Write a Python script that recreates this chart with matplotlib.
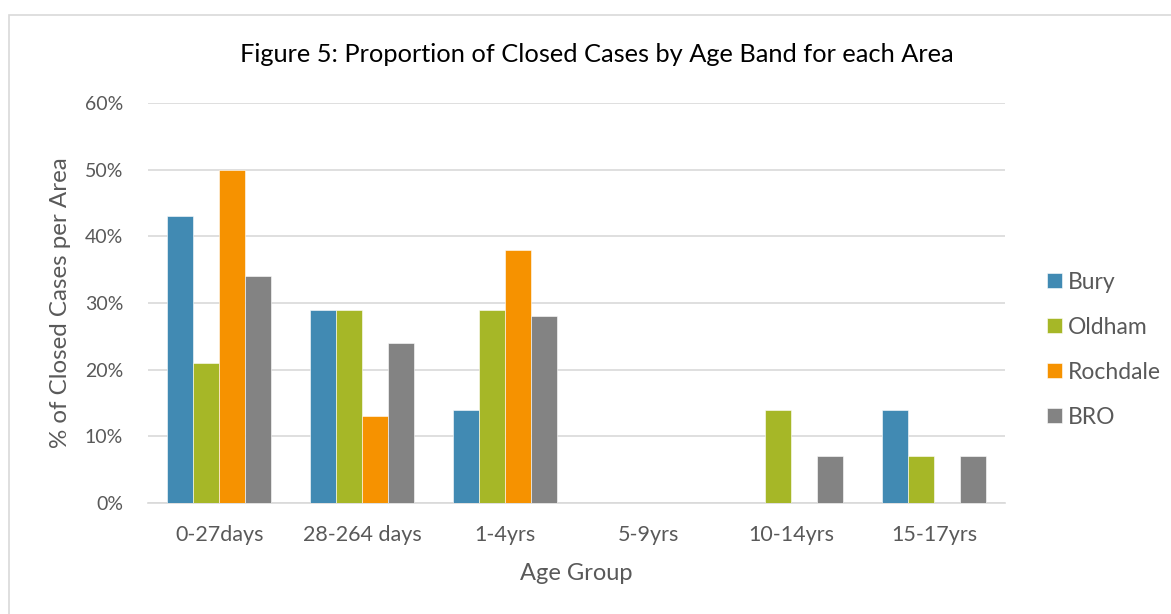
import numpy as np
import matplotlib.pyplot as plt
from matplotlib.patches import Rectangle

# data
age_groups = ['0-27days', '28-264 days', '1-4yrs', '5-9yrs', '10-14yrs', '15-17yrs']
bury = [43, 29, 14, 0, 0, 14]
oldham = [21, 29, 29, 0, 14, 7]
rochdale = [50, 13, 38, 0, 0, 0]
bro = [34, 24, 28, 0, 7, 7]

series = [('Bury', bury, '#418AB3'),
          ('Oldham', oldham, '#A6B727'),
          ('Rochdale', rochdale, '#F69200'),
          ('BRO', bro, '#838383')]

plt.rcParams['font.family'] = ['Lato', 'DejaVu Sans']
text_col = '#595959'

fig = plt.figure(figsize=(11.71, 6.14), dpi=100)
ax = fig.add_axes([0.1264, 0.1808, 0.7322, 0.6514])

# chart border (runs off the right/bottom edge like the screenshot)
fig.patches.append(Rectangle((9 / 1171, -0.05), 1.2, 1 - 15 / 614 + 0.05,
                             transform=fig.transFigure, fill=False,
                             edgecolor='#D9D9D9', linewidth=1.2))

x = np.arange(len(age_groups))
w = 0.182
for i, (name, vals, col) in enumerate(series):
    ax.bar(x + (i - 1.5) * w, vals, width=w, color=col, label=name,
           edgecolor='white', linewidth=0.4, zorder=3)

ax.set_xlim(-0.5, len(age_groups) - 0.5)
ax.set_ylim(0, 60)
ax.set_yticks(range(0, 61, 10))
ax.set_yticklabels([f'{v}%' for v in range(0, 61, 10)])
ax.set_xticks(x)
ax.set_xticklabels(age_groups)
ax.grid(axis='y', color='#D9D9D9', linewidth=1.2, zorder=0)
for s in ['top', 'right', 'left']:
    ax.spines[s].set_visible(False)
ax.spines['bottom'].set_color('#D9D9D9')
ax.spines['bottom'].set_linewidth(1.2)
ax.tick_params(length=0, labelsize=15.5, labelcolor=text_col)
ax.tick_params(axis='x', pad=16)
ax.tick_params(axis='y', labelsize=14, pad=18)

ax.set_xlabel('Age Group', fontsize=17, color=text_col, labelpad=13)
ax.set_ylabel('% of Closed Cases per Area', fontsize=17.4, color=text_col, labelpad=10)
fig.text(597 / 1171, 1 - 54 / 614, 'Figure 5: Proportion of Closed Cases by Age Band for each Area',
         ha='center', va='center', fontsize=18.3, color='black')

ax.legend(loc='center left', bbox_to_anchor=(1.024, 0.383), frameon=False,
          fontsize=16.5, labelcolor=text_col, handlelength=0.65, handleheight=0.65,
          handletextpad=0.28, labelspacing=1.05)

fig.savefig('out.png', dpi=100)
